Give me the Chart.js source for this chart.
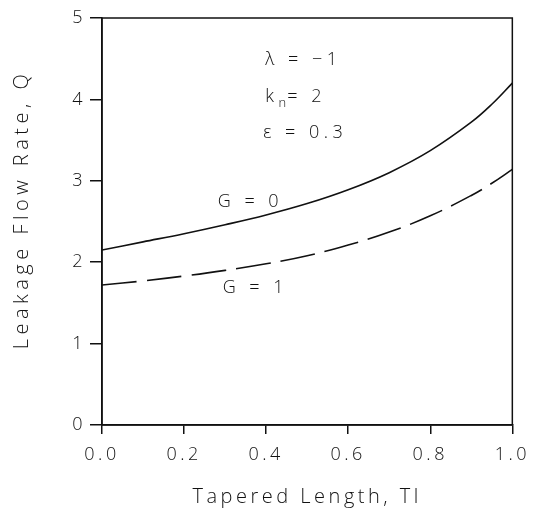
<!DOCTYPE html>
<html>
<head>
<meta charset="utf-8">
<script src="https://cdn.jsdelivr.net/npm/chart.js@4/dist/chart.umd.min.js"></script>
<style>
html,body{margin:0;padding:0;background:#fff;}
#wrap{width:540px;height:515px;}
</style>
</head>
<body>
<div id="wrap"><canvas id="c" width="540" height="515"></canvas></div>
<script>
const taperedLength = [0, 0.1, 0.2, 0.3, 0.4, 0.5, 0.6, 0.7, 0.8, 0.9, 0.95, 1.0];
const flowG0 = [2.15, 2.25, 2.35, 2.46, 2.58, 2.72, 2.89, 3.10, 3.37, 3.72, 3.94, 4.20];
const flowG1 = [1.72, 1.77, 1.83, 1.90, 1.98, 2.08, 2.21, 2.37, 2.57, 2.82, 2.97, 3.14];
const xTicks = [0, 0.2, 0.4, 0.6, 0.8, 1.0];
const yTicks = [0, 1, 2, 3, 4, 5];
const notes = [
  {x: 0.398, y: 4.48, parts: [["λ = −1", 0]]},
  {x: 0.398, y: 4.03, parts: [["k", 0], ["n", 6], ["= 2", 0]]},
  {x: 0.393, y: 3.59, parts: [["ε = 0.3", 0]]},
  {x: 0.282, y: 2.74, parts: [["G = 0", 0]]},
  {x: 0.294, y: 1.68, parts: [["G = 1", 0]]}
];

const FONT = '"Open Sans", "DejaVu Sans", sans-serif';
const INK = '#111';
const SPACING = '3.5px';

const toPts = (xs, ys) => xs.map((x, i) => ({x: x, y: ys[i]}));

const spacingPlugin = {
  id: 'spacing',
  beforeLayout(chart) { chart.ctx.letterSpacing = SPACING; },
  beforeDraw(chart) { chart.ctx.letterSpacing = SPACING; }
};

const framePlugin = {
  id: 'frame',
  afterDatasetsDraw(chart) {
    const {ctx, chartArea: a, scales} = chart;
    ctx.save();
    ctx.strokeStyle = INK;
    ctx.lineWidth = 1.5;
    ctx.setLineDash([]);
    ctx.strokeRect(a.left, a.top, a.right - a.left, a.bottom - a.top);
    ctx.fillStyle = INK;
    ctx.textBaseline = 'middle';
    ctx.textAlign = 'left';
    notes.forEach(n => {
      let px = scales.x.getPixelForValue(n.x);
      const py = scales.y.getPixelForValue(n.y);
      n.parts.forEach(([t, dy]) => {
        const size = dy ? 13 : 18;
        ctx.letterSpacing = dy ? '1px' : '4.5px';
        ctx.font = '300 ' + size + 'px ' + FONT;
        ctx.fillText(t, px, py + dy);
        px += ctx.measureText(t).width;
      });
    });
    ctx.restore();
  },
  afterDraw(chart) {
    const {ctx, chartArea: a} = chart;
    ctx.save();
    ctx.letterSpacing = '4.5px';
    ctx.font = '300 20px ' + FONT;
    ctx.fillStyle = INK;
    ctx.textAlign = 'center';
    ctx.textBaseline = 'middle';
    ctx.translate(22, (a.top + a.bottom) / 2 - 12);
    ctx.rotate(-Math.PI / 2);
    ctx.fillText('Leakage Flow Rate, Q', 0, 0);
    ctx.restore();
  }
};

new Chart(document.getElementById('c'), {
  type: 'line',
  data: {
    datasets: [
      {label: 'G = 0', data: toPts(taperedLength, flowG0), borderColor: INK, borderWidth: 1.6, pointRadius: 0, tension: 0.4, fill: false},
      {label: 'G = 1', data: toPts(taperedLength, flowG1), borderColor: INK, borderWidth: 1.6, borderDash: [35, 10], pointRadius: 0, tension: 0.4, fill: false}
    ]
  },
  options: {
    responsive: false,
    animation: false,
    layout: {padding: {left: 8, right: 26, top: 18, bottom: 2}},
    plugins: {legend: {display: false}, tooltip: {enabled: false}},
    scales: {
      x: {
        type: 'linear', min: 0, max: 1,
        afterBuildTicks: s => { s.ticks = xTicks.map(v => ({value: v})); },
        afterFit: s => { s.height = 515 - 425 - 2; },
        grid: {drawOnChartArea: false, drawTicks: true, tickLength: 9, color: INK, lineWidth: 1.5},
        border: {display: true, color: INK, width: 1.5},
        ticks: {color: INK, font: {family: FONT, size: 18, weight: '300'}, padding: 10, callback: v => v.toFixed(1), maxRotation: 0},
        title: {display: true, text: 'Tapered Length, Tl', color: INK, font: {family: FONT, size: 20, weight: '300'}}
      },
      y: {
        type: 'linear', min: 0, max: 5,
        afterBuildTicks: s => { s.ticks = yTicks.map(v => ({value: v})); },
        afterFit: s => { s.width = 102 - 8; },
        grid: {drawOnChartArea: false, drawTicks: true, tickLength: 12, color: INK, lineWidth: 1.5},
        border: {display: true, color: INK, width: 1.5},
        ticks: {color: INK, font: {family: FONT, size: 18, weight: '300'}, padding: 4},
        title: {display: false, text: 'Leakage Flow Rate, Q'}
      }
    }
  },
  plugins: [spacingPlugin, framePlugin]
});
</script>
</body>
</html>
